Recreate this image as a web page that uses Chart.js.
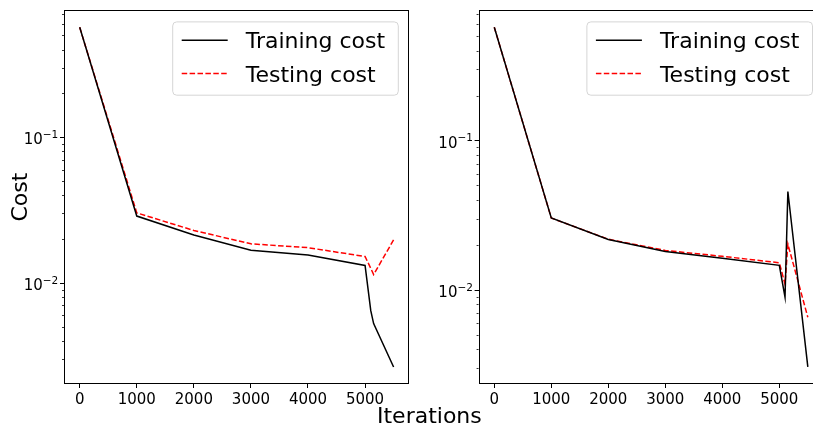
<!DOCTYPE html>
<html>
<head>
<meta charset="utf-8">
<script src="https://cdn.jsdelivr.net/npm/chart.js@4/dist/chart.umd.min.js"></script>
<style>
    html, body { margin: 0; padding: 0; background: #fff; overflow: hidden; width: 813px; height: 430px; }
    canvas { position: absolute; top: 0; }
    #left { left: 0; }
    #right { left: 430px; }
    #xlabel { position: absolute; left: 377px; top: 405px; font: 22px "DejaVu Sans"; line-height: 22px; color: #000; white-space: nowrap; }
</style>
</head>
<body>
<canvas id="left" width="420" height="430"></canvas>
<canvas id="right" width="400" height="430"></canvas>
<div id="xlabel">Iterations</div>
<script>
// 左圖數據
const iterA = [0, 1000, 2000, 3000, 4000, 5000, 5100, 5150, 5500];
const trainA = [0.573, 0.029, 0.0215, 0.0169, 0.0157, 0.0133, 0.0065, 0.0053, 0.00267];
const testA = [0.573, 0.0305, 0.0231, 0.0187, 0.0176, 0.0153, 0.0127, 0.0115, 0.0199];

// 右圖數據
const iterB = [0, 1000, 2000, 3000, 4000, 5000, 5100, 5150, 5500];
const trainB = [0.578, 0.0305, 0.0219, 0.0182, 0.0164, 0.0147, 0.0090, 0.0459, 0.00307];
const testB = [0.578, 0.0305, 0.0220, 0.0185, 0.0169, 0.0153, 0.0110, 0.0204, 0.0066];

const xTicks = [0, 1000, 2000, 3000, 4000, 5000];
const seriesNames = ['Training cost', 'Testing cost'];

Chart.defaults.font.family = '"DejaVu Sans"';
Chart.defaults.color = '#000';

function isPow10(v) {
    const l = Math.log10(v);
    return Math.abs(l - Math.round(l)) < 1e-6;
}
function isNice(v) {
    const e = Math.floor(Math.log10(v) + 1e-9);
    const m = v / Math.pow(10, e);
    return Math.abs(m - Math.round(m)) < 1e-6;
}

// 邊框 + 10^n 刻度標籤 + 圖例
const boxAndLegend = {
    id: 'boxAndLegend',
    afterDraw(chart) {
        const { ctx, chartArea: a } = chart;
        ctx.save();
        ctx.strokeStyle = '#000';
        ctx.lineWidth = 1;
        ctx.strokeRect(Math.round(a.left) + 0.5, Math.round(a.top) + 0.5,
            Math.round(a.right - a.left) - 1, Math.round(a.bottom - a.top) - 1);

        // y 軸 10^n 標籤（上標）
        const ys = chart.scales.y;
        ctx.fillStyle = '#000';
        ctx.textBaseline = 'alphabetic';
        ctx.textAlign = 'left';
        ys.ticks.forEach(t => {
            if (!isPow10(t.value)) return;
            const py = ys.getPixelForValue(t.value);
            const ex = '\u2212' + String(-Math.round(Math.log10(t.value)));
            ctx.font = '15px "DejaVu Sans"';
            const wb = ctx.measureText('10').width;
            ctx.font = '10.5px "DejaVu Sans"';
            const we = ctx.measureText(ex).width;
            const x0 = a.left - 5.7 - wb - we;
            ctx.font = '15px "DejaVu Sans"';
            ctx.fillText('10', x0, py + 6.7);
            ctx.font = '10.5px "DejaVu Sans"';
            ctx.fillText(ex, x0 + wb, py + 0.5);
        });

        const w = 225.6, h = 73.3;
        const x = a.right - 11 - w, y = a.top + 11.7;
        ctx.beginPath();
        ctx.roundRect(x, y, w, h, 4);
        ctx.fillStyle = 'rgba(255,255,255,0.8)';
        ctx.fill();
        ctx.strokeStyle = '#d5d5d5';
        ctx.stroke();
        chart.data.datasets.forEach((ds, i) => {
            const ly = y + 18.3 + i * 33.3;
            ctx.beginPath();
            ctx.setLineDash(ds.borderDash || []);
            ctx.strokeStyle = ds.borderColor;
            ctx.lineWidth = ds.borderWidth;
            ctx.moveTo(x + 9, ly);
            ctx.lineTo(x + 55, ly);
            ctx.stroke();
            ctx.setLineDash([]);
            ctx.fillStyle = '#000';
            ctx.font = '22px "DejaVu Sans"';
            ctx.fillText(ds.label, x + 73, ly + 8.2);
        });
        ctx.restore();
    }
};

function makeChart(id, iters, train, test, opts) {
    const ctx = document.getElementById(id).getContext('2d');
    return new Chart(ctx, {
        type: 'line',
        data: {
            datasets: [{
                label: seriesNames[0],
                data: iters.map((v, i) => ({ x: v, y: train[i] })),
                borderColor: '#000000',
                borderWidth: 1.5,
                pointRadius: 0,
                tension: 0
            }, {
                label: seriesNames[1],
                data: iters.map((v, i) => ({ x: v, y: test[i] })),
                borderColor: '#ff0000',
                borderWidth: 1.5,
                borderDash: [5.5, 2.4],
                pointRadius: 0,
                tension: 0
            }]
        },
        options: {
            responsive: false,
            animation: false,
            events: [],
            layout: { padding: { left: 0, right: opts.padRight, top: 6, bottom: 0 } },
            plugins: { legend: { display: false }, tooltip: { enabled: false } },
            scales: {
                x: {
                    type: 'linear',
                    min: -275,
                    max: 5775,
                    afterBuildTicks: s => { s.ticks = xTicks.map(v => ({ value: v })); },
                    afterFit: s => { s.height = 46; },
                    border: { display: false },
                    grid: { drawOnChartArea: false, tickLength: 4, tickColor: '#000', tickWidth: 1 },
                    ticks: {
                        font: { size: 15 }, color: '#000', padding: 3, maxRotation: 0, autoSkip: false,
                        callback: v => String(v)
                    }
                },
                y: {
                    type: 'logarithmic',
                    min: opts.ymin,
                    max: 0.751,
                    afterFit: s => { s.width = opts.yWidth; },
                    border: { display: false },
                    title: {
                        display: opts.showTitle,
                        text: 'Cost',
                        font: { size: 22 },
                        color: '#000',
                        padding: { top: 8, bottom: 0 }
                    },
                    grid: {
                        drawOnChartArea: false,
                        tickLength: 4,
                        tickColor: c => isNice(c.tick.value) ? '#000' : 'rgba(0,0,0,0)',
                        tickWidth: c => isPow10(c.tick.value) ? 1 : 0.8,
                        tickBorderDash: c => isPow10(c.tick.value) ? [] : [0, 2, 2, 100]
                    },
                    ticks: { autoSkip: false, callback: () => '' }
                }
            }
        },
        plugins: [boxAndLegend]
    });
}

makeChart('left', iterA, trainA, testA, { padRight: 10.7, ymin: 0.00204, yWidth: 64, showTitle: true });
makeChart('right', iterB, trainB, testB, { padRight: 6.5, ymin: 0.00236, yWidth: 48.6, showTitle: false });
</script>
</body>
</html>
